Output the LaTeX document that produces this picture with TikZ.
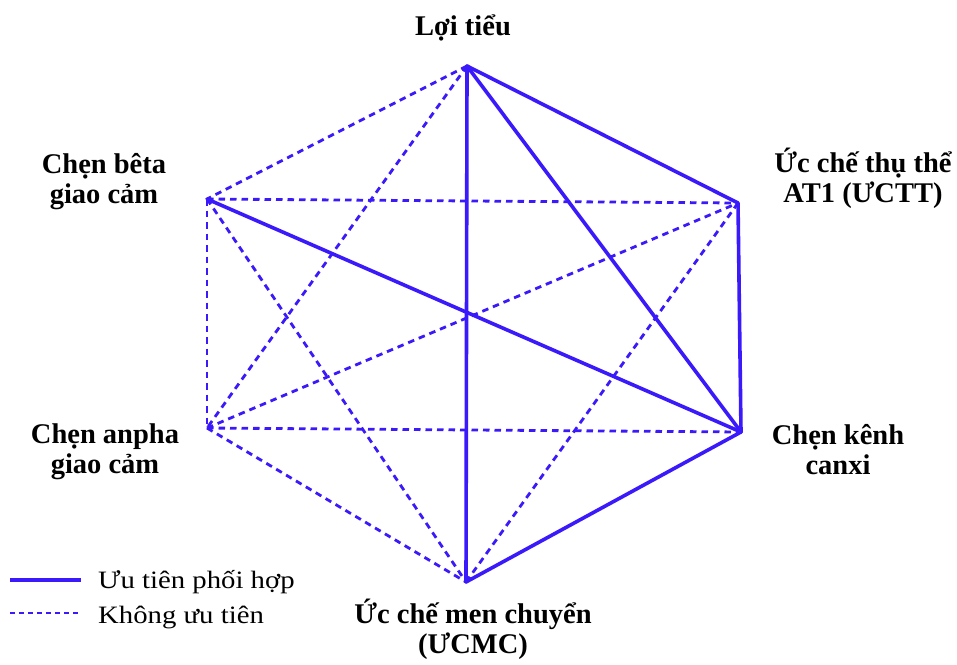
\documentclass[tikz,border=0pt]{standalone}
\usepackage{fontspec}
\setmainfont{Liberation Serif}
\newfontfamily\legfont[FakeStretch=1.15]{Liberation Serif}
\definecolor{edgeblue}{RGB}{58,26,250}
\begin{document}
\begin{tikzpicture}[x=1pt,y=-1pt,
  solidedge/.style={draw=edgeblue,line width=3.6pt,line join=round,line cap=round},
  dashededge/.style={draw=edgeblue,line width=2.8pt,dash pattern=on 6.5pt off 5pt},
  lbl/.style={font=\bfseries\fontsize{28.5}{29.5}\selectfont,align=center,inner sep=0pt,anchor=base},
  leg/.style={font=\legfont\fontsize{25}{27}\selectfont,inner sep=0pt,anchor=base west}]
\useasboundingbox (0,0) rectangle (957,664);
\fill[white] (0,0) rectangle (957,664);
\coordinate (T) at (467,66);
\coordinate (UR) at (738,203);
\coordinate (LR) at (741,432);
\coordinate (B) at (466,582);
\coordinate (LL) at (207,428);
\coordinate (UL) at (207,199);
% dashed edges
\draw[dashededge] (T) -- (UL);
\draw[dashededge] (T) -- (LL);
\draw[dashededge] (UL) -- (UR);
\draw[dashededge] (UL) -- (LL);
\draw[dashededge] (UL) -- (B);
\draw[dashededge] (LL) -- (UR);
\draw[dashededge] (LL) -- (LR);
\draw[dashededge] (LL) -- (B);
\draw[dashededge] (UR) -- (B);
% solid edges
\draw[solidedge] (T) -- (B);
\draw[solidedge] (T) -- (LR);
\draw[solidedge] (T) -- (UR) -- (LR) -- (B);
\draw[solidedge] (UL) -- (LR);
% labels (base anchor = baseline of last line)
\node[lbl] (lT) at (463,35) {Lợi tiểu};
\node[lbl] (lUR) at (863,202) {Ức chế thụ thể\\AT1 (ƯCTT)};
\node[lbl] (lUL) at (104,203) {Chẹn bêta\\giao cảm};
\node[lbl] (lLL) at (105,473) {Chẹn anpha\\giao cảm};
\node[lbl] (lLR) at (838,474) {Chẹn kênh\\canxi};
\node[lbl] (lB) at (473,653) {Ức chế men chuyển\\(ƯCMC)};
% legend
\coordinate (s1) at (10,580);
\coordinate (s2) at (81,580);
\coordinate (d1) at (10,613);
\coordinate (d2) at (81,613);
\draw[solidedge,line cap=butt] (s1) -- (s2);
\draw[draw=edgeblue,line width=2.2pt,dash pattern=on 5pt off 4pt] (d1) -- (d2);
\node[leg] (leg1) at (98,588) {Ưu tiên phối hợp};
\node[leg] (leg2) at (98,623) {Không ưu tiên};
\end{tikzpicture}
\end{document}
